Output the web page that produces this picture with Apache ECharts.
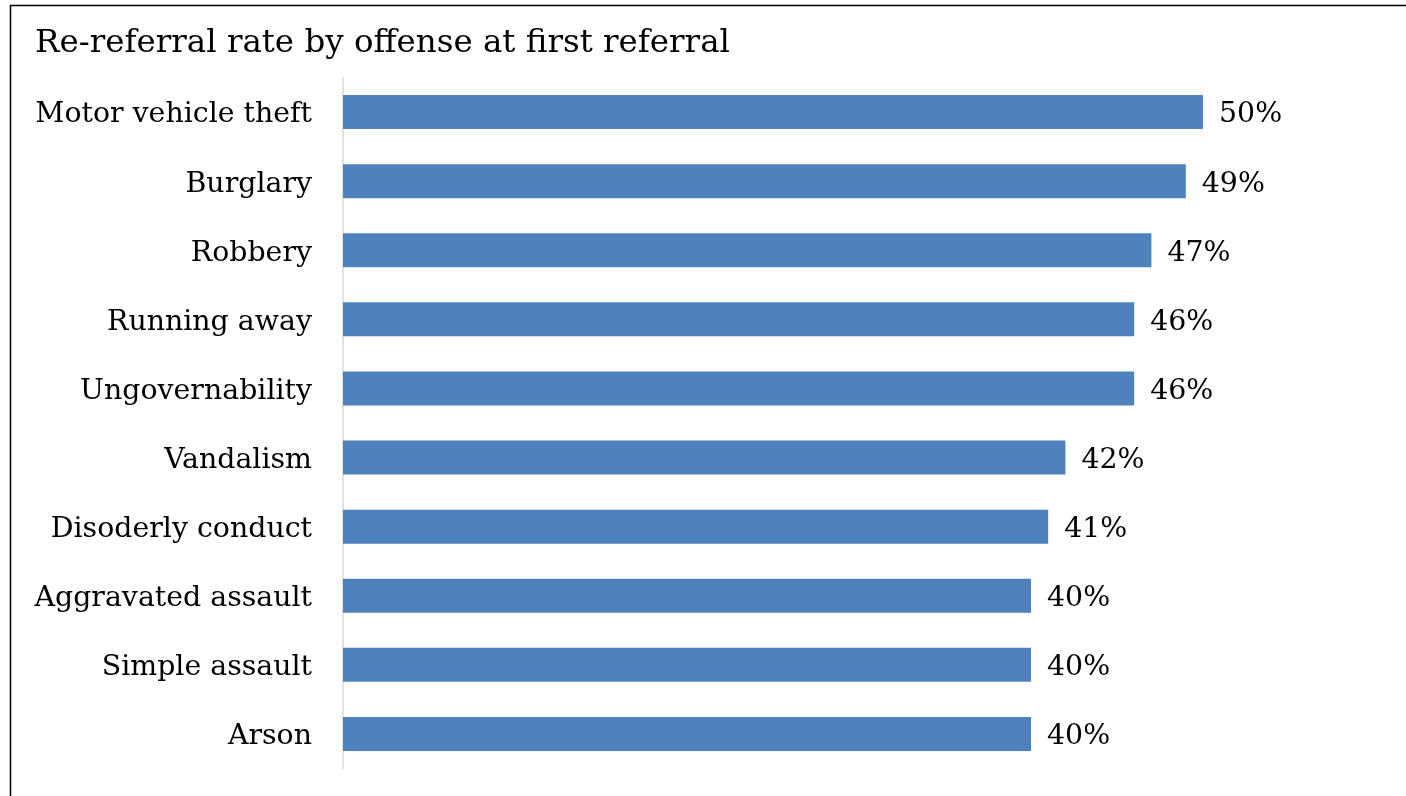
<!DOCTYPE html>
<html>
<head>
<meta charset="utf-8">
<script src="https://cdn.jsdelivr.net/npm/echarts@6/dist/echarts.min.js"></script>
<style>html,body{margin:0;padding:0;background:#fff}#c{width:1406px;height:796px}</style>
</head>
<body>
<div id="c"></div>
<script>
const titleText = 'Re-referral rate by offense at first referral';
const categories = ['Motor vehicle theft','Burglary','Robbery','Running away','Ungovernability','Vandalism','Disoderly conduct','Aggravated assault','Simple assault','Arson'];
const values = [50,49,47,46,46,42,41,40,40,40];

const FONT = '"DejaVu Serif", "Liberation Serif", serif';
const chart = echarts.init(document.getElementById('c'));
chart.setOption({
  backgroundColor: '#fff',
  animation: false,
  title: {
    text: titleText, left: 35, top: 27, padding: 0,
    textStyle: { fontFamily: FONT, fontSize: 32.5, fontWeight: 'normal', color: '#000' }
  },
  graphic: [{
    type: 'rect', left: 8, top: 3, silent: true,
    shape: { width: 1420, height: 820 },
    style: { fill: 'none', stroke: '#000', lineWidth: 1.5 }
  }],
  grid: { left: 343, right: 31, top: 77.5, bottom: 27.5 },
  xAxis: {
    type: 'value', min: 0, max: 60, show: false,
    splitLine: { show: false }
  },
  yAxis: {
    type: 'category', data: categories, inverse: true,
    axisLine: { show: true, lineStyle: { color: '#d9d9d9', width: 1.5 } },
    axisTick: { show: false },
    axisLabel: {
      margin: 31,
      formatter: v => '{a|' + v + '}',
      rich: { a: { fontFamily: FONT, fontSize: 28.4, color: '#000', padding: [6, 0, 0, 0] } }
    }
  },
  series: [{
    type: 'bar', data: values, barWidth: 34,
    itemStyle: { color: '#4f81bd' },
    label: {
      show: true, position: 'right', distance: 16, offset: [0, 3],
      formatter: p => p.value + '%',
      fontFamily: FONT, fontSize: 28.4, color: '#000'
    }
  }]
});
</script>
</body>
</html>
